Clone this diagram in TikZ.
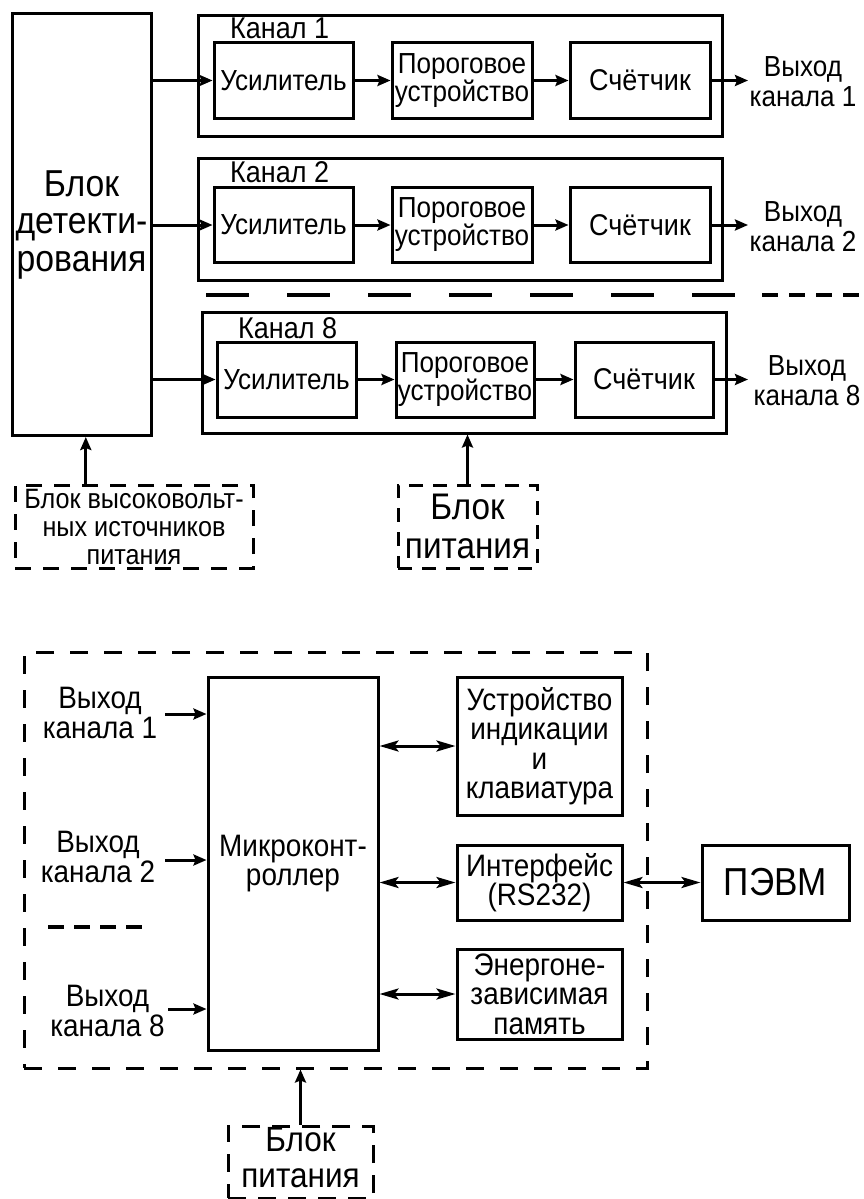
\documentclass[tikz,border=0pt]{standalone}
\usepackage{fontspec}
\setmainfont{Liberation Sans}[FakeStretch=0.9]
\usetikzlibrary{arrows.meta,calc}
\newcommand\fsDet{\fontsize{37.5}{37.5}\selectfont}
\newcommand\fsIn{\fontsize{29}{28}\selectfont}
\newcommand\fsCnt{\fontsize{30}{29}\selectfont}
\newcommand\fsCh{\fontsize{30}{29}\selectfont}
\newcommand\fsOut{\fontsize{29}{30}\selectfont}
\newcommand\fsHV{\fontsize{28}{28}\selectfont}
\newcommand\fsPw{\fontsize{37}{39}\selectfont}
\newcommand\fsPwB{\fontsize{35}{36}\selectfont}
\newcommand\fsBot{\fontsize{31}{29.5}\selectfont}
\newcommand\fsPC{\fontsize{39}{40}\selectfont}
\begin{document}
\begin{tikzpicture}[x=1pt,y=-1pt,
  blk/.style={draw, line width=3pt, inner sep=0pt, align=center},
  dblk/.style={blk, dash pattern=on 16pt off 12pt},
  arr/.style={line width=3pt, -{Stealth[length=13pt,width=11pt,inset=2pt]}},
  darr/.style={line width=3pt, {Stealth[length=19pt,width=11pt,inset=4pt]}-{Stealth[length=19pt,width=11pt,inset=4pt]}},
  txt/.style={inner sep=0pt, align=center}]
\useasboundingbox (0,0) rectangle (864,1199);

% ---------- upper part ----------
\node[blk, minimum width=139pt, minimum height=422pt, font=\fsDet] (det) at (81.5,224.5) {Блок\\детекти-\\рования};

% channel 1
\node[blk, minimum width=524pt, minimum height=121pt] (ch1) at (460,76.3) {};
\node[txt, anchor=base west, font=\fsCh] (k1) at (230,39) {Канал 1};
\node[blk, minimum width=139pt, minimum height=75pt, font=\fsIn] (u1) at (283.5,80.5) {Усилитель};
\node[blk, minimum width=140pt, minimum height=75pt, font=\fsIn] (p1) at (462,80.5) {Пороговое\\устройство};
\node[blk, minimum width=140pt, minimum height=75pt, font=\fsCnt] (s1) at (640,80.5) {Счётчик};
\coordinate (e1) at (748,80.5);
\node[txt, font=\fsOut] (o1) at (803,82) {Выход\\канала 1};
\draw[arr] (u1.west -| det.east) -- (u1.west);
\draw[arr] (u1.east) -- (p1.west);
\draw[arr] (p1.east) -- (s1.west);
\draw[arr] (s1.east) -- (e1);

% channel 2
\node[blk, minimum width=524pt, minimum height=122pt] (ch2) at (460,219) {};
\node[txt, anchor=base west, font=\fsCh] (k2) at (230,182) {Канал 2};
\node[blk, minimum width=139pt, minimum height=75pt, font=\fsIn] (u2) at (283.5,225) {Усилитель};
\node[blk, minimum width=140pt, minimum height=75pt, font=\fsIn] (p2) at (462,225) {Пороговое\\устройство};
\node[blk, minimum width=140pt, minimum height=75pt, font=\fsCnt] (s2) at (640,225) {Счётчик};
\coordinate (e2) at (748,225);
\node[txt, font=\fsOut] (o2) at (803,227) {Выход\\канала 2};
\draw[arr] (u2.west -| det.east) -- (u2.west);
\draw[arr] (u2.east) -- (p2.west);
\draw[arr] (p2.east) -- (s2.west);
\draw[arr] (s2.east) -- (e2);

% separator
\draw[line width=4pt, dash pattern=on 43pt off 38pt] (206,295) -- (735,295);
\draw[line width=4pt, dash pattern=on 16pt off 11pt] (762,295) -- (864,295);

% channel 8
\node[blk, minimum width=524pt, minimum height=121pt] (ch8) at (464,372.5) {};
\node[txt, anchor=base west, font=\fsCh] (k8) at (238,338) {Канал 8};
\node[blk, minimum width=139pt, minimum height=75pt, font=\fsIn] (u8) at (286.5,379.5) {Усилитель};
\node[blk, minimum width=138pt, minimum height=75pt, font=\fsIn] (p8) at (465,379.5) {Пороговое\\устройство};
\node[blk, minimum width=138pt, minimum height=75pt, font=\fsCnt] (s8) at (644,379.5) {Счётчик};
\coordinate (e8) at (748,379.5);
\node[txt, font=\fsOut] (o8) at (807,381) {Выход\\канала 8};
\draw[arr] (u8.west -| det.east) -- (u8.west);
\draw[arr] (u8.east) -- (p8.west);
\draw[arr] (p8.east) -- (s8.west);
\draw[arr] (s8.east) -- (e8);

% supplies
\node[dblk, minimum width=238pt, minimum height=83pt, font=\fsHV] (hv) at (134,526.5) {Блок высоковольт-\\ных источников\\питания};
\node[dblk, dash pattern=on 14pt off 10pt, minimum width=139pt, minimum height=83pt, font=\fsPw] (pw1) at (467.5,526.5) {Блок\\питания};
\coordinate (hvt) at ($(hv.north west)!0.3!(hv.north east)$);
\draw[arr] (hvt) -- (hvt |- det.south);
\draw[arr] (pw1.north) -- (pw1.north |- ch8.south);

% ---------- lower part ----------
\node[blk, dash pattern=on 18pt off 16pt, minimum width=623pt, minimum height=416pt] (outer) at (335.5,860) {};
\node[blk, minimum width=170pt, minimum height=373pt, font=\fsBot] (mc) at (293,863.5) {Микроконт-\\роллер};
\node[blk, minimum width=165pt, minimum height=138pt, font=\fsBot] (dev) at (539.5,746) {Устройство\\индикации\\и\\клавиатура};
\node[blk, minimum width=165pt, minimum height=75pt, font=\fsBot] (ifc) at (539.5,882.5) {Интерфейс\\(RS232)};
\node[blk, minimum width=165pt, minimum height=90pt, font=\fsBot] (mem) at (539.5,994) {Энергоне-\\зависимая\\память};
\node[blk, minimum width=147pt, minimum height=75pt, font=\fsPC] (pc) at (775.5,882.5) {ПЭВМ};

\node[txt, font=\fsBot] (in1) at (100,713) {Выход\\канала 1};
\node[txt, font=\fsBot] (in2) at (98,857) {Выход\\канала 2};
\node[txt, font=\fsBot] (in8) at (107.5,1011) {Выход\\канала 8};
\coordinate (a1) at (165,714);
\coordinate (a2) at (165,860);
\coordinate (a8) at (168,1009);
\draw[arr] (a1) -- (a1 -| mc.west);
\draw[arr] (a2) -- (a2 -| mc.west);
\draw[arr] (a8) -- (a8 -| mc.west);
\draw[line width=4pt, dash pattern=on 16pt off 10pt] (48,927) -- (143,927);

\draw[darr] (dev.west -| mc.east) -- (dev.west);
\draw[darr] (ifc.west -| mc.east) -- (ifc.west);
\draw[darr] (mem.west -| mc.east) -- (mem.west);
\draw[darr] (ifc.east) -- (pc.west);

\node[dblk, dash pattern=on 18pt off 12pt, minimum width=145pt, minimum height=72pt] (pw2) at (300.5,1162) {};
\node[txt, font=\fsPwB] (pw2t) at (300.5,1158) {Блок\\питания};
\draw[arr] (pw2.north) -- (pw2.north |- outer.south);
\end{tikzpicture}
\end{document}
